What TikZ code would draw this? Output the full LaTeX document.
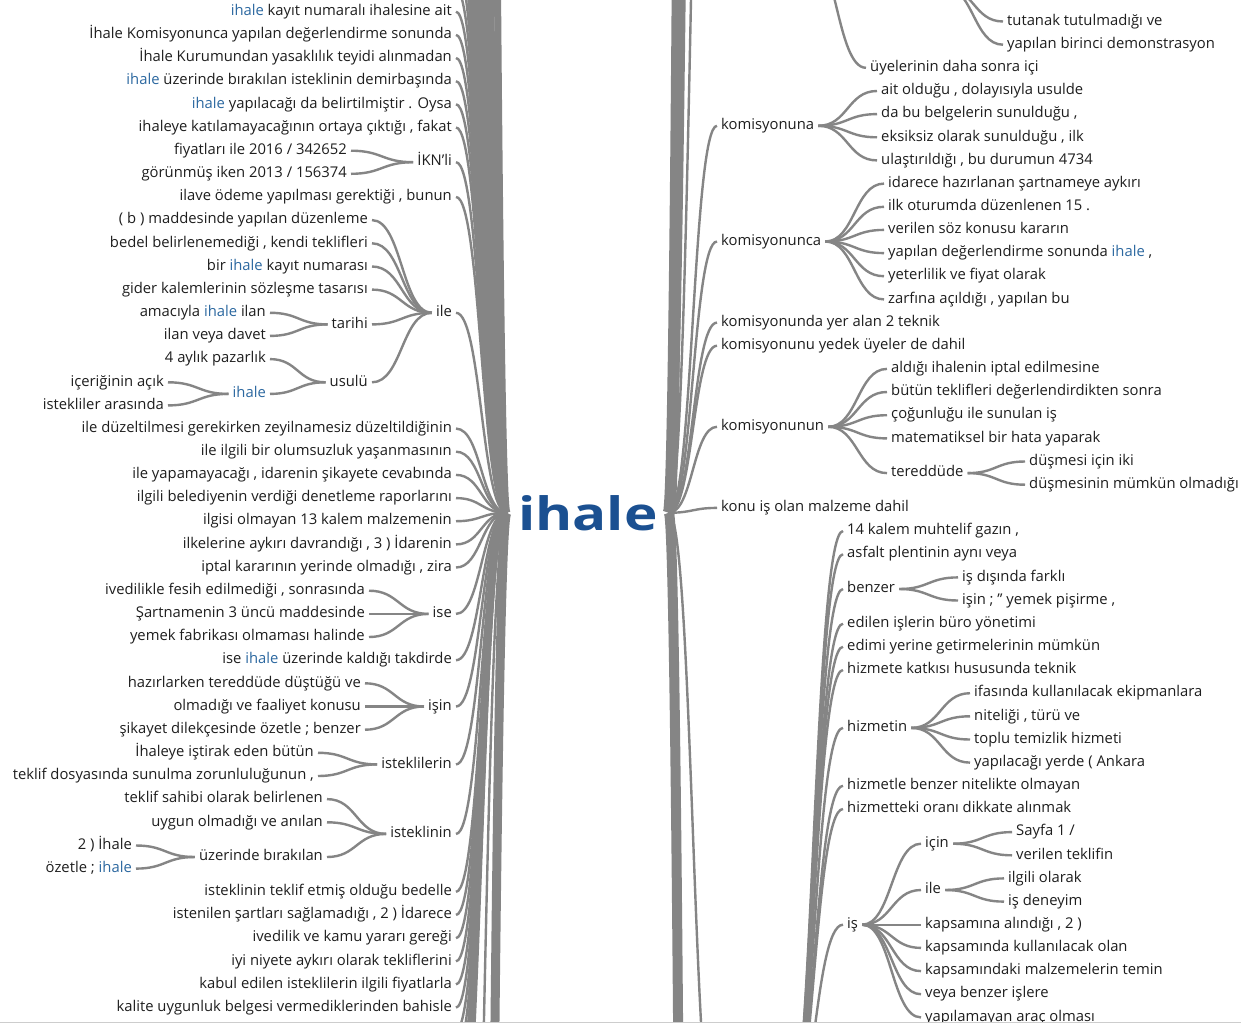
\documentclass[tikz,border=0pt]{standalone}
\usepackage{fontspec}
\setmainfont{Open Sans}
\usetikzlibrary{calc}

\definecolor{ink}{RGB}{30,30,30}
\definecolor{hlblue}{RGB}{44,104,160}
\definecolor{rootblue}{RGB}{27,80,145}
\definecolor{linkgray}{RGB}{133,133,133}
\definecolor{rulegray}{RGB}{205,205,205}

\newcommand\hl[1]{{\color{hlblue}#1}}
\newcommand\leaffont{\fontsize{14.8}{17}\selectfont}
% word-tree link: horizontal tangents at both ends, bending at the middle x
\newcommand\wlink[3][]{%
  \draw[lnk,#1] let \p1=(#2), \p2=(#3), \n1={0.5*(\x1+\x2)} in
    (\p1) .. controls (\n1,\y1) and (\n1,\y2) .. (\p2);}

\tikzset{
  lnk/.style={draw=linkgray, line width=2.4pt},
  wtxt/.style={inner xsep=4pt, inner ysep=0pt, text height=11pt, text depth=3.5pt,
               text=ink, font=\leaffont},
  wl/.style={wtxt, anchor=east},
  wr/.style={wtxt, anchor=west},
}

\begin{document}
\begin{tikzpicture}[x=1pt,y=-1pt]
\useasboundingbox (0,0) rectangle (1241,1026);
\fill[white] (0,0) rectangle (1241,1026);
\begin{scope}
\clip (0,0) rectangle (1241,1021.5);

% ---------- root ----------
\node[anchor=base west, inner xsep=11pt, inner ysep=0pt, text=rootblue]
  (root) at (507,530)
  {\scalebox{1.23}[1]{\fontsize{46}{50}\selectfont\bfseries ihale}};

% ---------- left tree ----------
\node[wl] (l0)  at (456,11.7)  {\hl{ihale} kayıt numaralı ihalesine ait};
\node[wl] (l1)  at (456,34.9)  {İhale Komisyonunca yapılan değerlendirme sonunda};
\node[wl] (l2)  at (456,58.0)  {İhale Kurumundan yasaklılık teyidi alınmadan};
\node[wl] (l3)  at (456,81.2)  {\hl{ihale} üzerinde bırakılan isteklinin demirbaşında};
\node[wl] (l4)  at (456,104.3) {\hl{ihale} yapılacağı da belirtilmiştir . Oysa};
\node[wl] (l5)  at (456,127.5) {ihaleye katılamayacağının ortaya çıktığı , fakat};
\node[wl] (ikn) at (456,162.2) {İKN'li};
  \node[wl] (ikn1) at (351,150.7) {fiyatları ile 2016 / 342652};
  \node[wl] (ikn2) at (351,173.8) {görünmüş iken 2013 / 156374};
\node[wl] (l8)  at (456,197.0) {ilave ödeme yapılması gerektiği , bunun};
\node[wl] (ile) at (456,312.8) {ile};
  \node[wl] (ile1) at (372,220.1) {( b ) maddesinde yapılan düzenleme};
  \node[wl] (ile2) at (372,243.3) {bedel belirlenemediği , kendi teklifleri};
  \node[wl] (ile3) at (372,266.5) {bir \hl{ihale} kayıt numarası};
  \node[wl] (ile4) at (372,289.6) {gider kalemlerinin sözleşme tasarısı};
  \node[wl] (tar)  at (372,324.4) {tarihi};
    \node[wl] (tar1) at (270,312.8) {amacıyla \hl{ihale} ilan};
    \node[wl] (tar2) at (270,335.9) {ilan veya davet};
  \node[wl] (usu)  at (372,382.3) {usulü};
    \node[wl] (usu1) at (270,359.1) {4 aylık pazarlık};
    \node[wl] (uih)  at (270,393.9) {\hl{ihale}};
      \node[wl] (uih1) at (168,382.3) {içeriğinin açık};
      \node[wl] (uih2) at (168,405.4) {istekliler arasında};
\node[wl] (l18) at (456,428.6) {ile düzeltilmesi gerekirken zeyilnamesiz düzeltildiğinin};
\node[wl] (l19) at (456,451.7) {ile ilgili bir olumsuzluk yaşanmasının};
\node[wl] (l20) at (456,474.9) {ile yapamayacağı , idarenin şikayete cevabında};
\node[wl] (l21) at (456,498.1) {ilgili belediyenin verdiği denetleme raporlarını};
\node[wl] (l22) at (456,521.2) {ilgisi olmayan 13 kalem malzemenin};
\node[wl] (l23) at (456,544.4) {ilkelerine aykırı davrandığı , 3 ) İdarenin};
\node[wl] (l24) at (456,567.5) {iptal kararının yerinde olmadığı , zira};
\node[wl] (ise) at (456,613.9) {ise};
  \node[wl] (ise1) at (369,590.7) {ivedilikle fesih edilmediği , sonrasında};
  \node[wl] (ise2) at (369,613.9) {Şartnamenin 3 üncü maddesinde};
  \node[wl] (ise3) at (369,637.0) {yemek fabrikası olmaması halinde};
\node[wl] (l28) at (456,660.2) {ise \hl{ihale} üzerinde kaldığı takdirde};
\node[wl] (isn) at (456,706.5) {işin};
  \node[wl] (isn1) at (365,683.3) {hazırlarken tereddüde düştüğü ve};
  \node[wl] (isn2) at (365,706.5) {olmadığı ve faaliyet konusu};
  \node[wl] (isn3) at (365,729.7) {şikayet dilekçesinde özetle ; benzer};
\node[wl] (stl) at (456,764.4) {isteklilerin};
  \node[wl] (stl1) at (318,752.8) {İhaleye iştirak eden bütün};
  \node[wl] (stl2) at (318,776.0) {teklif dosyasında sunulma zorunluluğunun ,};
\node[wl] (stn) at (456,833.9) {isteklinin};
  \node[wl] (stn1) at (327,799.1) {teklif sahibi olarak belirlenen};
  \node[wl] (stn2) at (327,822.3) {uygun olmadığı ve anılan};
  \node[wl] (uzb)  at (327,857.0) {üzerinde bırakılan};
    \node[wl] (uzb1) at (136,845.5) {2 ) İhale};
    \node[wl] (uzb2) at (136,868.6) {özetle ; \hl{ihale}};
\node[wl] (l38) at (456,891.8)  {isteklinin teklif etmiş olduğu bedelle};
\node[wl] (l39) at (456,914.9)  {istenilen şartları sağlamadığı , 2 ) İdarece};
\node[wl] (l40) at (456,938.1)  {ivedilik ve kamu yararı gereği};
\node[wl] (l41) at (456,961.3)  {iyi niyete aykırı olarak tekliflerini};
\node[wl] (l42) at (456,984.4)  {kabul edilen isteklilerin ilgili fiyatlarla};
\node[wl] (l43) at (456,1007.6) {kalite uygunluk belgesi vermediklerinden bahisle};

% ---------- right tree ----------
\node[wr] (rtut) at (1003,21.5) {tutanak tutulmadığı ve};
\node[wr] (ryap) at (1003,44.7) {yapılan birinci demonstrasyon};
\node[wr] (ruye) at (866,67.8)  {üyelerinin daha sonra içi};
\node[wr] (kna) at (717,125.8) {komisyonuna};
  \node[wr] (kna1) at (877,91.0)  {ait olduğu , dolayısıyla usulde};
  \node[wr] (kna2) at (877,114.1) {da bu belgelerin sunulduğu ,};
  \node[wr] (kna3) at (877,137.3) {eksiksiz olarak sunulduğu , ilk};
  \node[wr] (kna4) at (877,160.4) {ulaştırıldığı , bu durumun 4734};
\node[wr] (knc) at (717,241.5) {komisyonunca};
  \node[wr] (knc1) at (884,183.6) {idarece hazırlanan şartnameye aykırı};
  \node[wr] (knc2) at (884,206.8) {ilk oturumda düzenlenen 15 .};
  \node[wr] (knc3) at (884,229.9) {verilen söz konusu kararın};
  \node[wr] (knc4) at (884,253.1) {yapılan değerlendirme sonunda \hl{ihale} ,};
  \node[wr] (knc5) at (884,276.2) {yeterlilik ve fiyat olarak};
  \node[wr] (knc6) at (884,299.4) {zarfına açıldığı , yapılan bu};
\node[wr] (r13) at (717,322.6) {komisyonunda yer alan 2 teknik};
\node[wr] (r14) at (717,345.7) {komisyonunu yedek üyeler de dahil};
\node[wr] (knn) at (717,426.8) {komisyonunun};
  \node[wr] (knn1) at (887,368.9) {aldığı ihalenin iptal edilmesine};
  \node[wr] (knn2) at (887,392.0) {bütün teklifleri değerlendirdikten sonra};
  \node[wr] (knn3) at (887,415.2) {çoğunluğu ile sunulan iş};
  \node[wr] (knn4) at (887,438.4) {matematiksel bir hata yaparak};
  \node[wr] (ter)  at (887,473.1) {tereddüde};
    \node[wr] (ter1) at (1025,461.5) {düşmesi için iki};
    \node[wr] (ter2) at (1025,484.7) {düşmesinin mümkün olmadığı};
\node[wr] (r21) at (717,507.9) {konu iş olan malzeme dahil};
% children of a branch whose head lies below the sheet
\node[wr] (c1)  at (843,531.0) {14 kalem muhtelif gazın ,};
\node[wr] (c2)  at (843,554.2) {asfalt plentinin aynı veya};
\node[wr] (bnz) at (843,589.0) {benzer};
  \node[wr] (bnz1) at (958,577.4) {iş dışında farklı};
  \node[wr] (bnz2) at (958,600.5) {işin ; " yemek pişirme ,};
\node[wr] (c5)  at (843,623.7) {edilen işlerin büro yönetimi};
\node[wr] (c6)  at (843,646.8) {edimi yerine getirmelerinin mümkün};
\node[wr] (c7)  at (843,670.0) {hizmete katkısı hususunda teknik};
\node[wr] (hzm) at (843,727.9) {hizmetin};
  \node[wr] (hzm1) at (970,693.2) {ifasında kullanılacak ekipmanlara};
  \node[wr] (hzm2) at (970,716.3) {niteliği , türü ve};
  \node[wr] (hzm3) at (970,739.5) {toplu temizlik hizmeti};
  \node[wr] (hzm4) at (970,762.6) {yapılacağı yerde ( Ankara};
\node[wr] (c9)  at (843,785.8) {hizmetle benzer nitelikte olmayan};
\node[wr] (c10) at (843,809.0) {hizmetteki oranı dikkate alınmak};
\node[wr] (is)  at (843,924.7) {iş};
  \node[wr] (icn) at (921,843.7) {için};
    \node[wr] (icn1) at (1012,832.1) {Sayfa 1 /};
    \node[wr] (icn2) at (1012,855.3) {verilen teklifin};
  \node[wr] (ilr) at (921,890.0) {ile};
    \node[wr] (ilr1) at (1004,878.4) {ilgili olarak};
    \node[wr] (ilr2) at (1004,901.6) {iş deneyim};
  \node[wr] (is3) at (921,924.7)  {kapsamına alındığı , 2 )};
  \node[wr] (is4) at (921,947.9)  {kapsamında kullanılacak olan};
  \node[wr] (is5) at (921,971.1)  {kapsamındaki malzemelerin temin};
  \node[wr] (is6) at (921,994.2)  {veya benzer işlere};
  \node[wr] (is7) at (921,1017.4) {yapılamayan araç olması};

% ---------- heads of branches beyond the sheet edges ----------
\coordinate (tp)  at (944,-13.2);
\coordinate (up)  at (807,-53);
\coordinate (cpw) at (717,1150);
\coordinate (cpe) at (784,1150);
\coordinate (rfa) at (717,-700);
\coordinate (rfb) at (717,-3000);
\coordinate (rfc) at (717,-9000);
\coordinate (rfd) at (717,9000);
\coordinate (lfa) at (456,-2300);
\coordinate (lfb) at (456,-9000);
\coordinate (lfc) at (456,1766);
\coordinate (lfd) at (456,6000);

% ---------- links, left ----------
\foreach \k in {1,...,60} {
  \coordinate (lu\k) at (456,{11.7-23.16*\k});
  \wlink{lu\k}{root.west}
}
\foreach \k in {0,...,7} {
  \coordinate (ld\k) at (456,{1030.7+23.16*\k});
  \wlink{ld\k}{root.west}
}
\wlink[line width=7pt]{lfa}{root.west}
\wlink[line width=7pt]{lfb}{root.west}
\wlink{lfc}{root.west}
\wlink[line width=9pt]{lfd}{root.west}

\foreach \nm in {l0,l1,l2,l3,l4,l5,ikn,l8,ile,l18,l19,l20,l21,l22,l23,l24,
                 ise,l28,isn,stl,stn,l38,l39,l40,l41,l42,l43}
  {\wlink{\nm.east}{root.west}}
\foreach \nm in {ikn1,ikn2} {\wlink{\nm.east}{ikn.west}}
\foreach \nm in {ile1,ile2,ile3,ile4,tar,usu} {\wlink{\nm.east}{ile.west}}
\foreach \nm in {tar1,tar2} {\wlink{\nm.east}{tar.west}}
\foreach \nm in {usu1,uih} {\wlink{\nm.east}{usu.west}}
\foreach \nm in {uih1,uih2} {\wlink{\nm.east}{uih.west}}
\foreach \nm in {ise1,ise2,ise3} {\wlink{\nm.east}{ise.west}}
\foreach \nm in {isn1,isn2,isn3} {\wlink{\nm.east}{isn.west}}
\foreach \nm in {stl1,stl2} {\wlink{\nm.east}{stl.west}}
\foreach \nm in {stn1,stn2,uzb} {\wlink{\nm.east}{stn.west}}
\foreach \nm in {uzb1,uzb2} {\wlink{\nm.east}{uzb.west}}

% ---------- links, right ----------
\wlink[line width=6pt]{root.east}{rfb}
\wlink[line width=12pt]{root.east}{rfc}
\wlink[line width=10pt]{root.east}{rfd}
\wlink{root.east}{rfa}
\wlink{root.east}{cpw}
\foreach \nm in {kna,knc,r13,r14,knn,r21} {\wlink{root.east}{\nm.west}}
\foreach \nm in {rtut,ryap} {\wlink{tp}{\nm.west}}
\wlink{up}{ruye.west}
\foreach \nm in {kna1,kna2,kna3,kna4} {\wlink{kna.east}{\nm.west}}
\foreach \nm in {knc1,knc2,knc3,knc4,knc5,knc6} {\wlink{knc.east}{\nm.west}}
\foreach \nm in {knn1,knn2,knn3,knn4,ter} {\wlink{knn.east}{\nm.west}}
\foreach \nm in {ter1,ter2} {\wlink{ter.east}{\nm.west}}
\foreach \nm in {c1,c2,bnz,c5,c6,c7,hzm,c9,c10,is} {\wlink{cpe}{\nm.west}}
\foreach \nm in {bnz1,bnz2} {\wlink{bnz.east}{\nm.west}}
\foreach \nm in {hzm1,hzm2,hzm3,hzm4} {\wlink{hzm.east}{\nm.west}}
\foreach \nm in {icn,ilr,is3,is4,is5,is6,is7} {\wlink{is.east}{\nm.west}}
\foreach \nm in {icn1,icn2} {\wlink{icn.east}{\nm.west}}
\foreach \nm in {ilr1,ilr2} {\wlink{ilr.east}{\nm.west}}
\end{scope}

% sheet edge at the foot
\draw[rulegray, line width=1.5pt] (0,1022.5) -- (1241,1022.5);
\end{tikzpicture}
\end{document}
